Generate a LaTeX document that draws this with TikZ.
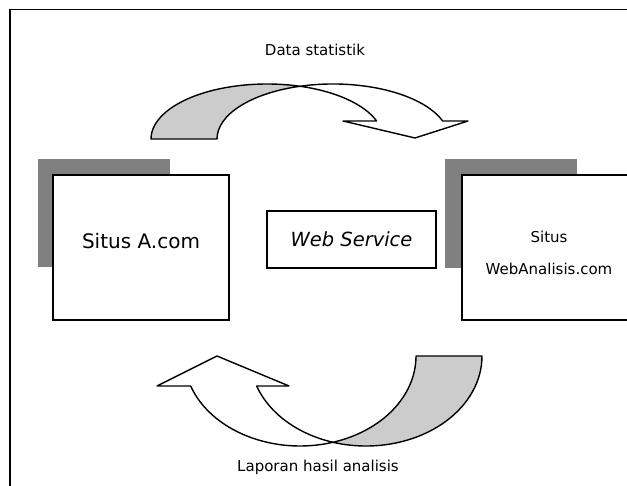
\documentclass[tikz,border=0pt]{standalone}
\usepackage{fontspec}
\setmainfont{DejaVu Sans}
\usepackage{xcolor}
\definecolor{shadowgray}{RGB}{128,128,128}
\definecolor{backgray}{RGB}{204,204,204}
\usetikzlibrary{positioning}

\begin{document}
\begin{tikzpicture}[x=1pt, y=1pt,
  sitebox/.style={draw=black, fill=white, line width=1.6pt, inner sep=0pt},
  flow/.style={draw=black, line width=1.4pt, line join=round}]
  \clip (0,0) rectangle (627,486);

  % Outer frame
  \draw[line width=1.5pt] (10,-20) rectangle (660,476.5);

  % Shadows behind the sites
  \fill[shadowgray] (38,219) rectangle (170,327);
  \fill[shadowgray] (445,218) rectangle (577,327);

  % Sites
  \node[sitebox, minimum width=176, minimum height=145] (situsA) at (141,238.5) {};
  \node[font=\fontsize{20}{24}\selectfont] (situsAtxt) at (141,245) {Situs A.com};
  \node[sitebox, minimum width=176, minimum height=145] (situsWA) at (550,238.5) {};
  \node[font=\fontsize{15}{32}\selectfont, align=center] (situsWAtxt) at (549,233)
       {Situs\\WebAnalisis.com};

  % Web service in the middle
  \node[sitebox, minimum width=169, minimum height=57,
        font=\fontsize{19.5}{23}\selectfont\itshape] (ws) at (351.5,246.5) {Web Service};

  % Upper curved arrow: back band
  \draw[flow, fill=backgray] (151,347)
       arc[start angle=180, end angle=73.47, x radius=116, y radius=55]
       arc[start angle=106.53, end angle=180, x radius=116, y radius=55] -- cycle;
  % Upper curved arrow: front band and head
  \draw[flow, fill=white] (300,399.73)
       arc[start angle=106.53, end angle=19.1, x radius=116, y radius=55]
       -- (468,365) -- (415,348) -- (343,365) -- (376.6,365)
       arc[start angle=19.1, end angle=73.47, x radius=116, y radius=55] -- cycle;
  \node[font=\fontsize{15}{18}\selectfont] (datastat) at (315,436) {Data statistik};

  % Lower curved arrow: back band
  \draw[flow, fill=backgray] (333,43.7)
       arc[start angle=253.47, end angle=360, x radius=116, y radius=90]
       -- (416,130)
       arc[start angle=0, end angle=-73.47, x radius=116, y radius=90] -- cycle;
  % Lower curved arrow: front band and head
  \draw[flow, fill=white] (190.63,100)
       arc[start angle=199.47, end angle=286.53, x radius=116, y radius=90]
       arc[start angle=253.47, end angle=199.47, x radius=116, y radius=90]
       -- (289,100) -- (217,130) -- (157,100) -- cycle;
  \node[font=\fontsize{15}{18}\selectfont] (laporan) at (318,19) {Laporan hasil analisis};
\end{tikzpicture}
\end{document}
